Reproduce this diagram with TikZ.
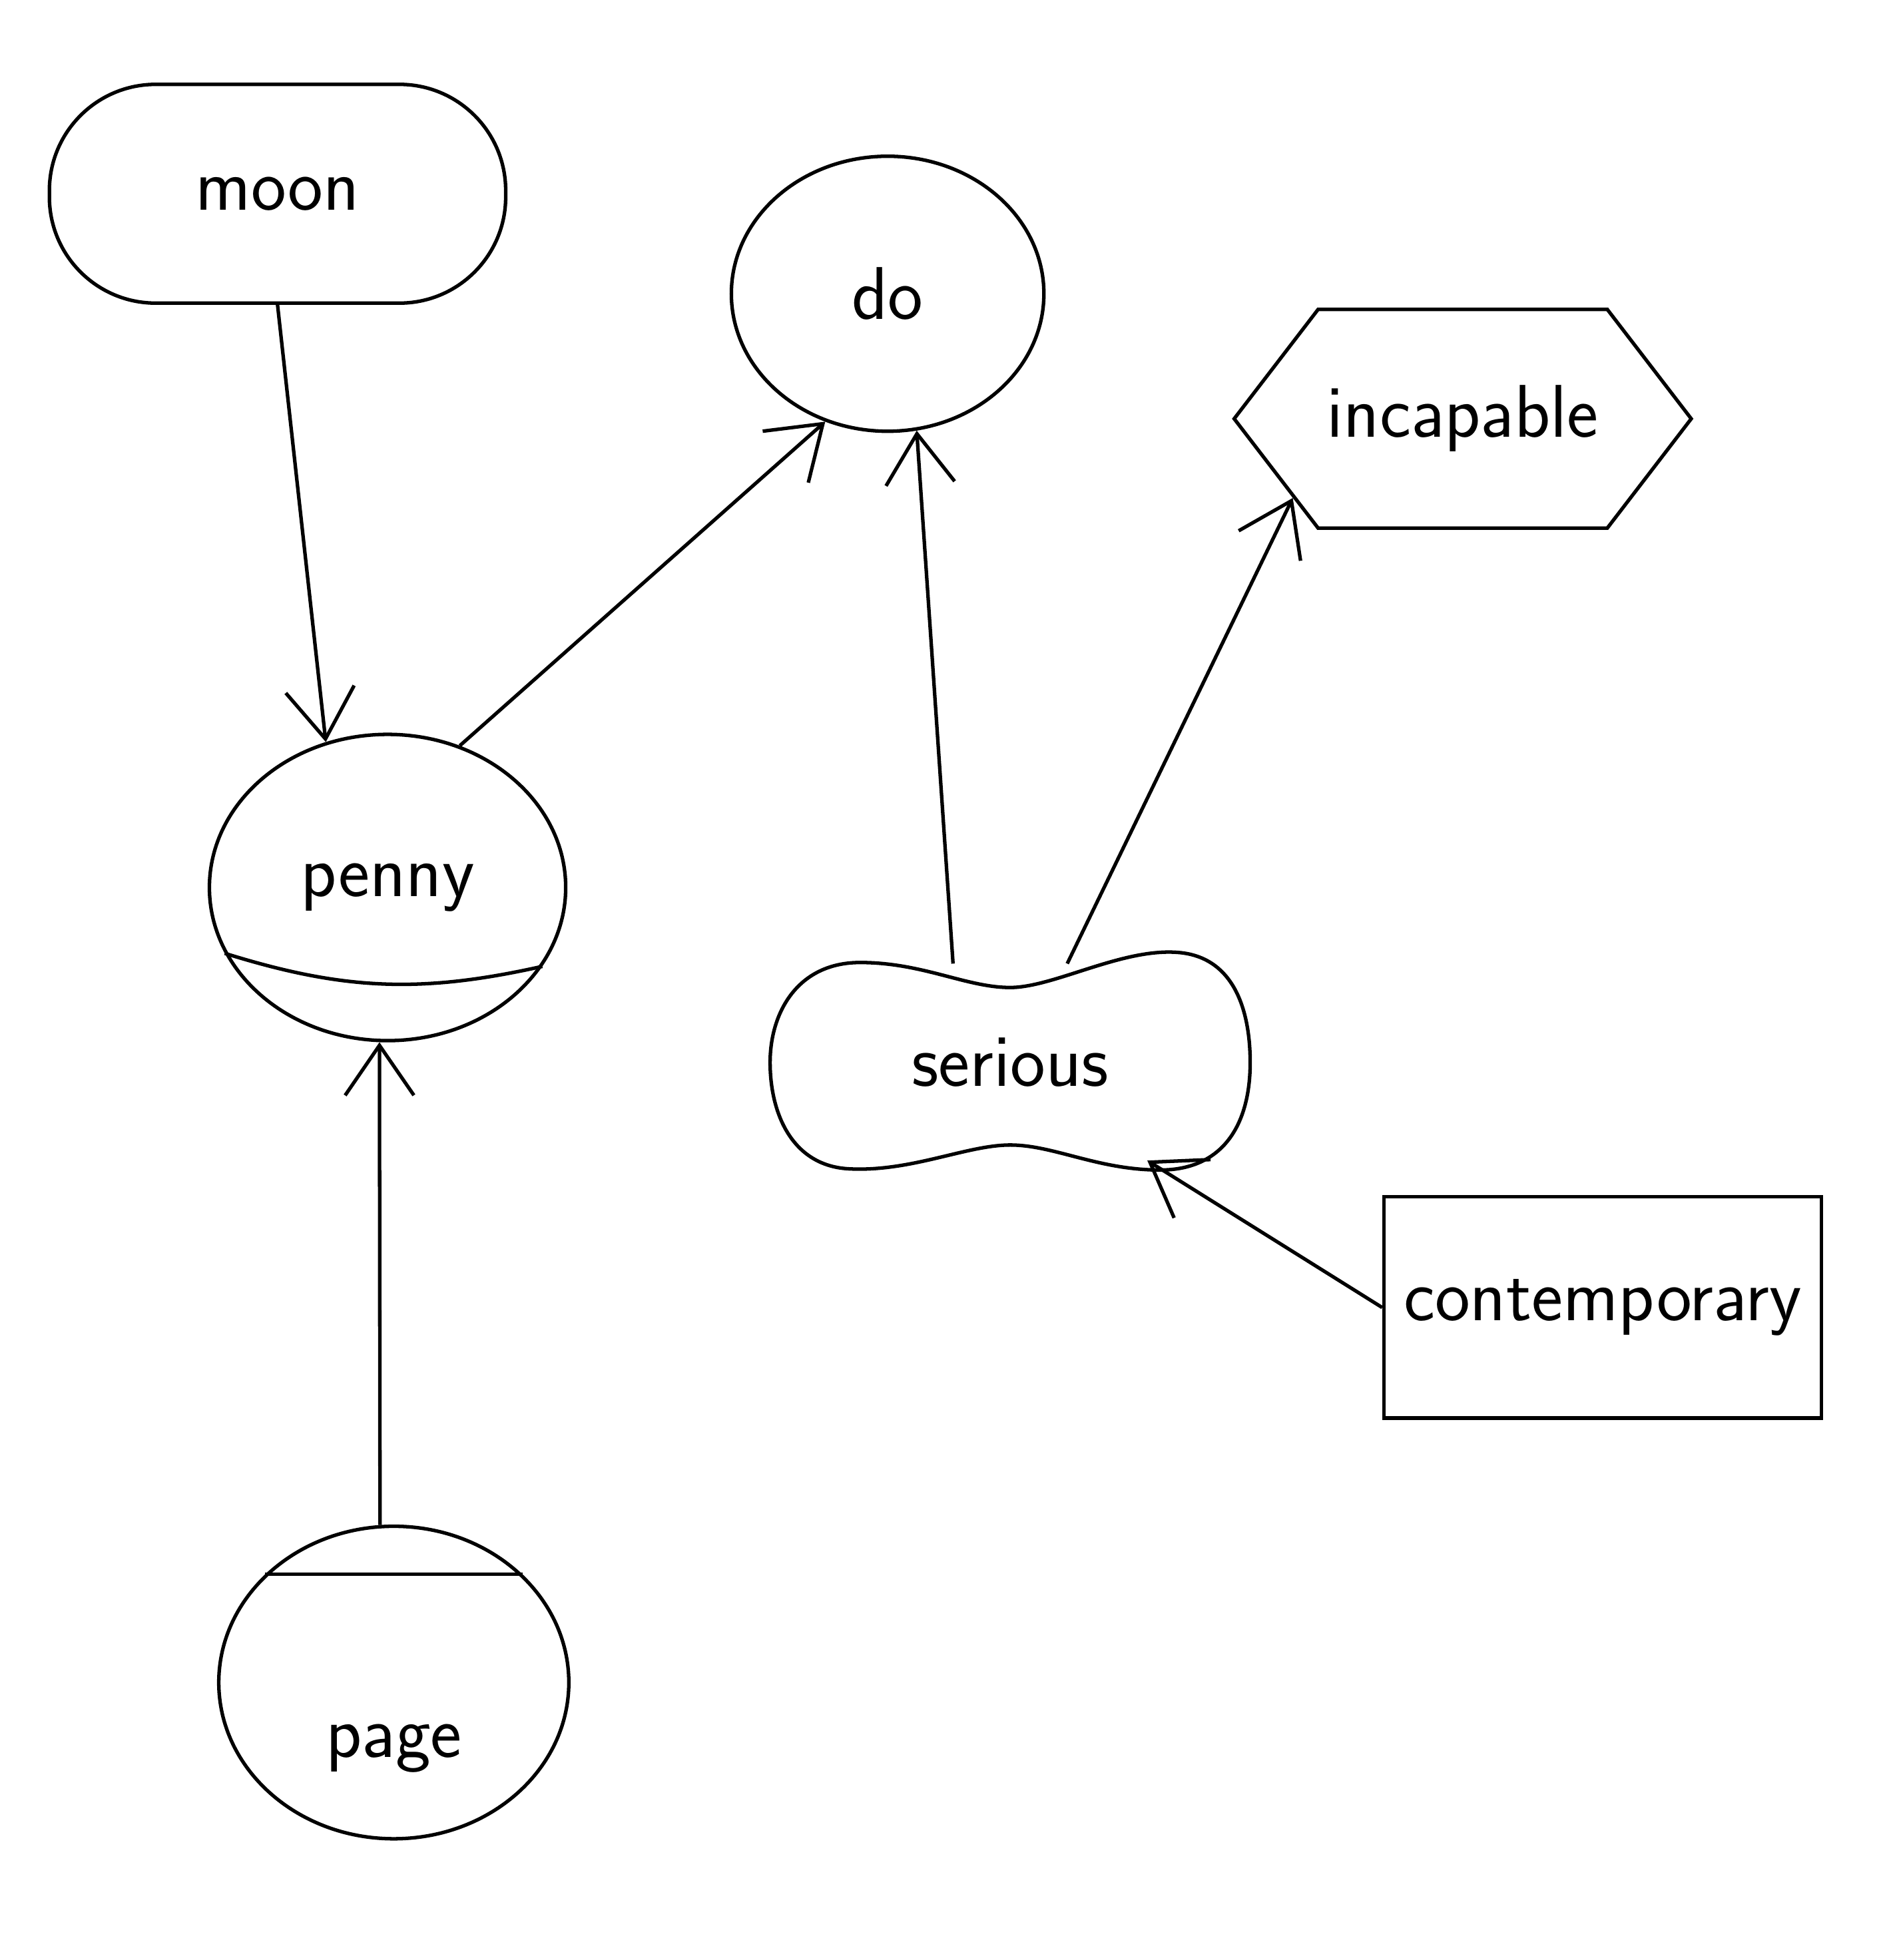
\documentclass[tikz,border=0pt]{standalone}
\usetikzlibrary{arrows.meta, shapes.geometric, shapes.symbols}
\tikzset{
	word/.style={draw, thick, align=center, font=\sffamily\fontsize{17}{20}\selectfont, inner sep=2pt},
	pill/.style={rectangle, rounded corners=0.85cm, minimum width=3.65cm, minimum height=1.75cm},
	disc/.style={ellipse, minimum width=2.85cm, minimum height=2.45cm},
	hexa/.style={signal, signal to=west and east, signal pointer angle=105, minimum height=1.75cm},
	plainbox/.style={rectangle, minimum width=3.5cm, minimum height=1.77cm, inner sep=1pt},
	blob/.style={ellipse, draw=none, minimum width=3.85cm, minimum height=1.6cm},
	warr/.style={-{Straight Barb[length=4mm, width=5.5mm]}, thick}
}
\begin{document}
\begin{tikzpicture}[every node/.style={word}]
	\useasboundingbox (0,0) rectangle (15.14,-15.68);
	\node[pill] (moon) at (2.22,-1.55) {moon};
	\node[disc, minimum width=2.5cm, minimum height=2.2cm] (do) at (7.10,-2.35) {do};
	\node[hexa] (incapable) at (11.70,-3.35) {incapable};
	\node[disc] (penny) at (3.10,-7.10) {penny};
	\node[blob] (serious) at (8.08,-8.50) {serious};
	\node[plainbox] (contemporary) at (12.82,-10.46) {contemporary};
	\node[disc, minimum width=2.8cm, minimum height=2.5cm, text height=1.2cm, text depth=0pt] (page) at (3.15,-13.46) {page};
	% chords and the two-lobed outline
	\draw[thick] (penny.-158) to[bend right=15] (penny.-27);
	\draw[thick] (page.140) -- (page.40);
	\draw[thick, shift={(serious.center)}] (0,0.6)
		.. controls (0.35,0.6) and (0.9,0.92) .. (1.35,0.88)
		.. controls (1.8,0.84) and (1.92,0.4) .. (1.92,0.0)
		.. controls (1.92,-0.5) and (1.7,-0.86) .. (1.2,-0.86)
		.. controls (0.7,-0.86) and (0.35,-0.66) .. (0,-0.66)
		.. controls (-0.35,-0.66) and (-0.8,-0.88) .. (-1.3,-0.85)
		.. controls (-1.75,-0.82) and (-1.92,-0.4) .. (-1.92,0.0)
		.. controls (-1.92,0.4) and (-1.7,0.8) .. (-1.2,0.8)
		.. controls (-0.7,0.8) and (-0.35,0.6) .. cycle;
	% links
	\draw[warr] (moon.south) -- (penny.113);
	\draw[warr] (penny.63) -- (do.-116);
	\draw[warr] (serious.120) -- (do.-78);
	\draw[warr] (serious.60) -- (incapable.-155);
	\draw[warr] (page.95) -- (penny.-93);
	\draw[warr, shorten >=1.5mm] (contemporary.west) -- (serious.-36);
\end{tikzpicture}
\end{document}
